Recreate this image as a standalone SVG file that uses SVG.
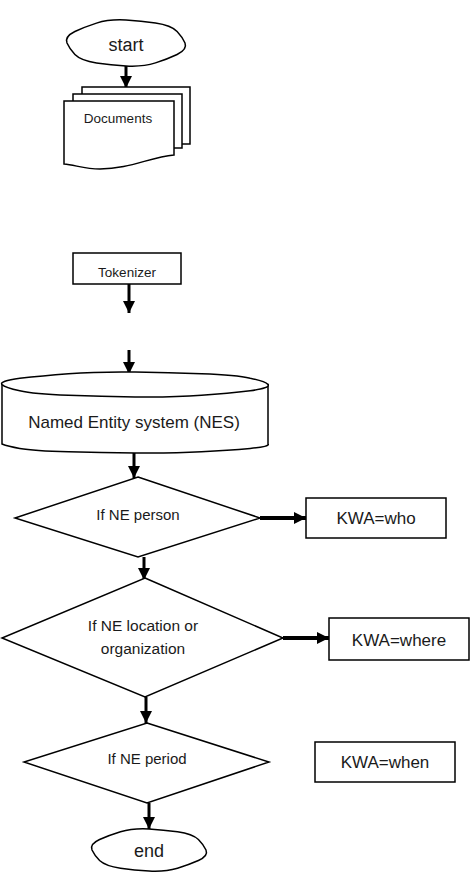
<svg xmlns="http://www.w3.org/2000/svg" width="473" height="873" viewBox="0 0 473 873">
<style>
.sh{fill:#fff;stroke:#000;stroke-width:1.5}
.t{font-family:"Liberation Sans",Arial,sans-serif;fill:#1a1a1a;text-anchor:middle}
.c{stroke:#000;stroke-width:3;fill:none}
.c2{stroke:#000;stroke-width:4;fill:none}
</style>
<defs>
<marker id="ah" viewBox="0 0 10 10" refX="10" refY="5" markerWidth="4" markerHeight="4" markerUnits="strokeWidth" orient="auto">
<path d="M0,0 L10,5 L0,10Z" fill="#000"/>
</marker>
<marker id="ah2" viewBox="0 0 10 10" refX="10" refY="5" markerWidth="3.2" markerHeight="3" markerUnits="strokeWidth" orient="auto">
<path d="M0,0 L10,5 L0,10Z" fill="#000"/>
</marker>
</defs>
<rect width="473" height="873" fill="#fff"/>
<g id="connectors">
<line class="c" x1="126" y1="66" x2="126" y2="88" marker-end="url(#ah)"/>
<line class="c" x1="129" y1="284" x2="129" y2="313" marker-end="url(#ah)"/>
<line class="c" x1="129" y1="350" x2="129" y2="374" marker-end="url(#ah)"/>
<line class="c" x1="134" y1="453" x2="134" y2="478" marker-end="url(#ah)"/>
<line class="c2" x1="260" y1="518" x2="306" y2="518" marker-end="url(#ah2)"/>
<line class="c" x1="144" y1="557" x2="144" y2="580" marker-end="url(#ah)"/>
<line class="c2" x1="283" y1="638" x2="329" y2="638" marker-end="url(#ah2)"/>
<line class="c" x1="146" y1="697" x2="146" y2="723" marker-end="url(#ah)"/>
<line class="c" x1="149" y1="803" x2="149" y2="829" marker-end="url(#ah)"/>
</g>
<g id="start">
<path class="sh" d="M185,43 Q187.5,49.4 177.1,54.5 Q167.3,59.1 155.5,62.9 Q142.5,67 126,66 Q110.9,65 96.5,62.9 Q80.9,60.6 74.9,54.5 Q69.6,48.9 67,43 Q64.5,36.6 74.9,31.5 Q84.7,26.9 96.5,23.1 Q109.5,19 126,20 Q141.1,21 155.5,23.1 Q171.1,25.4 177.1,31.5 Q182.4,37.1 185,43Z"/>
<text class="t" x="126" y="51" font-size="18">start</text>
</g>
<g id="documents">
<rect class="sh" x="82" y="87" width="108" height="57"/>
<rect class="sh" x="73" y="94" width="109" height="54"/>
<path class="sh" d="M64,101 H174 V155 C150,157 130,169 100,169 C85,169 75,165 64,164 Z"/>
<text class="t" x="118" y="123" font-size="13.5">Documents</text>
</g>
<g id="tokenizer">
<rect class="sh" x="73" y="253" width="108" height="31"/>
<text class="t" x="127" y="277" font-size="13.5">Tokenizer</text>
</g>
<g id="nes">
<path class="sh" d="M2,384.5 L2,444 Q7.9,446.3 19.8,448.5 Q33.4,450.9 68.5,451.8 Q101,452.6 135,453 Q172.2,453.4 201.5,451.8 Q228.1,450.3 250.2,448.5 Q270.5,446.5 268,444 L268,384.5 Z"/>
<path class="sh" d="M268,384.5 Q270.5,388 250.2,390.75 Q228.1,393.25 201.5,395.3 Q172.2,397.5 135,397 Q101,396.45 68.5,395.3 Q33.4,394.05 19.8,390.75 Q5,387.7 2,384.5 Q-1,381 19.8,378.25 Q41.9,375.75 68.5,373.7 Q97.8,371.5 135,372 Q169,372.55 201.5,373.7 Q236.6,374.95 250.2,378.25 Q265,381.3 268,384.5Z"/>
<text class="t" x="134" y="428" font-size="17">Named Entity system (NES)</text>
</g>
<g id="d1">
<polygon class="sh" points="138,477 260,518 138,557 15,518"/>
<text class="t" x="138" y="520" font-size="15">If NE person</text>
</g>
<g id="who">
<rect class="sh" x="306" y="498" width="140" height="40"/>
<text class="t" x="376" y="524" font-size="17">KWA=who</text>
</g>
<g id="d2">
<polygon class="sh" points="145,578 283,638 145,697 2,638"/>
<text class="t" x="143" y="631" font-size="15.5">If NE location or</text>
<text class="t" x="143" y="654" font-size="15.5">organization</text>
</g>
<g id="where">
<rect class="sh" x="329" y="618" width="140" height="42"/>
<text class="t" x="399" y="646" font-size="17">KWA=where</text>
</g>
<g id="d3">
<polygon class="sh" points="147,723 269,762 147,803 24,762"/>
<text class="t" x="147" y="764" font-size="15">If NE period</text>
</g>
<g id="when">
<rect class="sh" x="315" y="742" width="140" height="40"/>
<text class="t" x="385" y="768" font-size="17">KWA=when</text>
</g>
<g id="end">
<path class="sh" d="M206,850 Q208.5,855.9 198.4,860.5 Q188.9,864.7 177.5,868.2 Q165,871.9 149,871 Q134.4,870.1 120.5,868.2 Q105.5,866 99.6,860.5 Q94.5,855.4 92,850 Q89.5,844.1 99.6,839.5 Q109.1,835.3 120.5,831.8 Q133,828.1 149,829 Q163.6,829.9 177.5,831.8 Q192.5,834 198.4,839.5 Q203.5,844.6 206,850Z"/>
<text class="t" x="149" y="857" font-size="18">end</text>
</g>
</svg>
